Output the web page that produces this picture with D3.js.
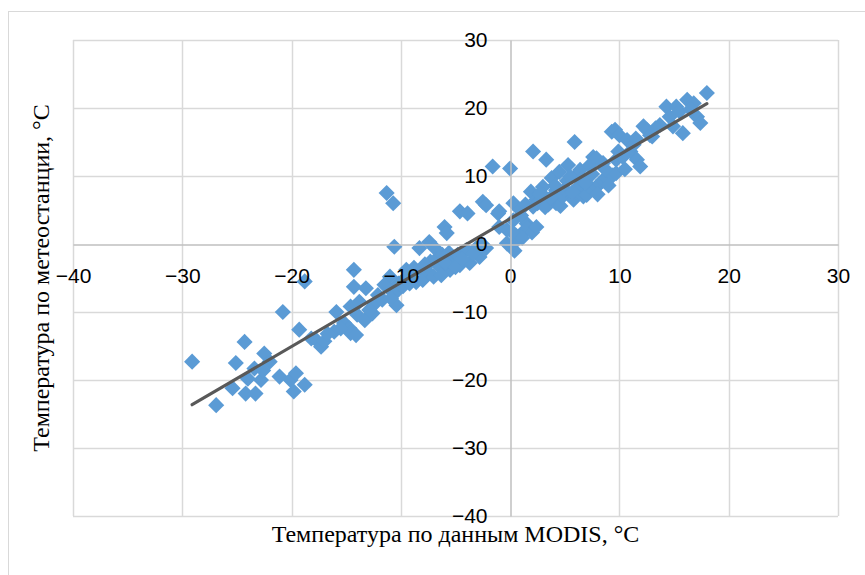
<!DOCTYPE html>
<html>
<head>
<meta charset="utf-8">
<script src="https://cdn.jsdelivr.net/npm/d3@7"></script>
<style>
    body { margin: 0; background: #fff; }
    #chart-area { width: 865px; height: 575px; }
</style>
</head>
<body>
<div id="chart-area"></div>
<script>

// MODIS land surface temperature vs. weather station temperature, °C
let modisTemp = [
    -29.1, -26.9, -25.4, -25.1, -24.3, -24.2, -24.0, -23.4, -23.3, -22.8,
    -22.6, -22.5, -22.0, -21.1, -20.8, -20.1, -19.8, -19.6, -19.3, -18.8,
    -18.8, -18.2, -17.7, -17.3, -16.1, -15.9, -15.2, -14.7, -14.6, -14.6,
    -14.3, -14.3, -14.1, -14.0, -13.3, -13.2, -12.6, -12.4, -12.1, -11.7,
    -11.3, -11.2, -11.0, -10.7, -10.6, -10.4, -10.4, -10.2, -9.7, -9.5,
    -9.0, -8.6, -8.3, -8.1, -8.0, -7.5, -7.4, -7.3, -6.9, -6.8,
    -6.5, -6.2, -6.0, -5.8, -5.6, -5.5, -5.4, -4.8, -4.6, -4.6,
    -4.0, -3.9, -3.7, -3.1, -2.8, -2.5, -2.2, -2.2, -1.6, -1.1,
    -1.0, -1.0, -0.3, -0.3, 0.0, 0.3, 0.3, 0.3, 0.4, 0.5,
    0.6, 0.9, 1.2, 1.5, 1.6, 1.9, 2.0, 2.1, 2.1, 2.4,
    2.5, 3.0, 3.0, 3.3, 3.5, 3.8, 4.2, 4.2, 4.5, 4.6,
    4.8, 5.2, 5.3, 5.8, 5.9, 6.0, 6.1, 6.2, 6.4, 6.7,
    7.0, 7.3, 7.3, 7.6, 7.9, 7.9, 8.2, 8.5, 8.5, 8.8,
    9.3, 9.4, 9.6, 9.7, 9.7, 10.0, 10.3, 10.7, 11.0, 11.3,
    11.6, 11.9, 12.2, 12.5, 13.0, 13.7, 14.3, 14.6, 14.9, 15.2,
    15.8, 16.2, 16.8, 17.1, 17.4, 18.0,
    -9.8, -9.2, -8.8, -7.8, -7.0, -6.3, -5.9, -5.0, -4.4, -3.4,
    -2.6, -12.9, -13.8, -11.5, -10.9, -17.0, -15.5, -16.7,
    1.0, 1.4, 2.7, 3.2, 3.7, 4.1, 5.0, 5.5, 5.7, 6.5,
    6.9, 7.5, 8.0, 8.7, 9.0, 9.9, 10.5, 11.5, 12.8, 13.3,
    15.5, 16.5, 2.4, 1.1, 0.2
];

let stationTemp = [
    -17.3, -23.7, -21.2, -17.5, -14.4, -22.0, -19.8, -18.3, -22.0, -20.0,
    -18.6, -16.1, -17.3, -19.5, -10.0, -20.0, -21.7, -19.0, -12.6, -20.7,
    -5.5, -13.9, -14.2, -15.1, -12.9, -10.0, -11.6, -12.4, -9.2, -13.1,
    -3.8, -6.3, -13.4, -10.4, -11.2, -6.5, -10.2, -8.8, -7.5, -8.2,
    7.5, -6.4, -4.8, 6.0, -0.4, -7.0, -9.0, -5.8, -5.2, -3.8,
    -4.9, -5.6, -0.6, -3.8, -5.3, -4.1, 0.3, -2.6, -0.6, -2.3,
    -3.3, -1.6, 2.5, 1.6, -1.3, -3.8, -2.4, -1.6, 4.8, -3.1,
    -0.9, 4.5, -2.8, -0.6, -1.9, 6.2, 5.7, -0.6, 11.4, 4.5,
    4.8, 2.5, 2.1, 0.1, 11.1, 0.1, 6.0, 3.5, -1.0, 1.3,
    0.6, 5.0, 1.8, 3.0, 2.3, 7.7, 1.7, 13.6, 5.5, 6.5,
    6.0, 8.4, 7.2, 12.4, 5.8, 9.7, 7.9, 6.0, 10.6, 5.6,
    7.0, 9.3, 11.6, 6.5, 15.0, 7.7, 8.2, 10.3, 10.9, 7.0,
    7.2, 11.6, 8.4, 12.8, 12.6, 8.4, 8.9, 11.9, 9.4, 9.7,
    16.5, 10.1, 16.8, 12.4, 10.4, 16.0, 12.8, 15.3, 13.6, 14.6,
    12.4, 11.4, 17.3, 16.8, 15.8, 17.5, 20.2, 18.7, 17.3, 20.2,
    16.3, 21.2, 20.7, 18.7, 17.8, 22.2,
    -6.2, -5.8, -3.5, -3.0, -4.8, -4.6, -2.8, -3.4, -2.2, -1.4,
    -0.2, -9.7, -8.5, -6.0, -8.0, -14.3, -12.4, -13.2,
    4.2, 5.8, 7.4, 5.4, 6.8, 8.6, 8.0, 9.9, 7.6, 9.5,
    9.0, 10.3, 7.3, 11.0, 8.6, 13.6, 11.0, 15.5, 16.0, 17.0,
    19.5, 19.8, 2.5, 0.9, 1.7
];

let xTicks = [-40, -30, -20, -10, 0, 10, 20, 30];
let yTicks = [-40, -30, -20, -10, 0, 10, 20, 30];

let xTitle = 'Температура по данным MODIS, °C';
let yTitle = 'Температура по метеостанции, °C';


class ScatterVis {

    constructor(parentElement, xData, yData) {
        this.parentElement = parentElement;
        this.xData = xData;
        this.yData = yData;
        this.displayData = [];

        this.initVis();
    }

    initVis() {
        let vis = this;

        vis.margin = {top: 40, right: 27, bottom: 59, left: 73};
        vis.width = 865 - vis.margin.left - vis.margin.right;
        vis.height = 575 - vis.margin.top - vis.margin.bottom;

        vis.root = d3.select('#' + vis.parentElement).append('svg')
            .attr('width', 865)
            .attr('height', 575);

        // chart area border (runs off the right and bottom edge)
        vis.root.append('rect')
            .attr('x', 8.5)
            .attr('y', 11.5)
            .attr('width', 900)
            .attr('height', 600)
            .attr('fill', 'none')
            .attr('stroke', '#d9d9d9');

        vis.svg = vis.root.append('g')
            .attr('transform', `translate(${vis.margin.left}, ${vis.margin.top})`);

        vis.x = d3.scaleLinear().domain([-40, 30]).range([0, vis.width]);
        vis.y = d3.scaleLinear().domain([-40, 30]).range([vis.height, 0]);

        vis.wrangleData();
    }

    wrangleData() {
        let vis = this;

        vis.displayData = vis.xData.map((d, i) => ({x: d, y: vis.yData[i]}));

        // least squares trend line, like Excel's linear trendline
        let mx = d3.mean(vis.displayData, d => d.x);
        let my = d3.mean(vis.displayData, d => d.y);
        let sxy = d3.sum(vis.displayData, d => (d.x - mx) * (d.y - my));
        let sxx = d3.sum(vis.displayData, d => (d.x - mx) * (d.x - mx));
        vis.slope = sxy / sxx;
        vis.intercept = my - vis.slope * mx;
        vis.trendData = d3.extent(vis.displayData, d => d.x)
            .map(x => ({x: x, y: vis.slope * x + vis.intercept}));

        vis.updateVis();
    }

    updateVis() {
        let vis = this;

        // grid
        vis.svg.append('g').selectAll('line.v-grid')
            .data(xTicks.filter(d => d !== 0))
            .enter().append('line')
            .attr('class', 'v-grid')
            .attr('x1', d => Math.round(vis.x(d)) + 0.5)
            .attr('x2', d => Math.round(vis.x(d)) + 0.5)
            .attr('y1', 0)
            .attr('y2', vis.height)
            .attr('stroke', '#d9d9d9')
            .attr('stroke-width', 1.5);

        vis.svg.append('g').selectAll('line.h-grid')
            .data(yTicks.filter(d => d !== 0))
            .enter().append('line')
            .attr('class', 'h-grid')
            .attr('x1', 0)
            .attr('x2', vis.width)
            .attr('y1', d => Math.round(vis.y(d)) + 0.5)
            .attr('y2', d => Math.round(vis.y(d)) + 0.5)
            .attr('stroke', '#d9d9d9')
            .attr('stroke-width', 1.5);

        // axis lines through zero
        vis.xAxis = d3.axisBottom(vis.x).tickValues(xTicks).tickSize(0).tickPadding(24);
        vis.yAxis = d3.axisLeft(vis.y).tickValues(yTicks).tickSize(0).tickPadding(23);

        let xAxisG = vis.svg.append('g')
            .attr('class', 'x-axis')
            .attr('transform', `translate(0, ${Math.round(vis.y(0)) + 0.5})`)
            .call(vis.xAxis);

        let yAxisG = vis.svg.append('g')
            .attr('class', 'y-axis')
            .attr('transform', `translate(${Math.round(vis.x(0)) + 0.5}, 0)`)
            .call(vis.yAxis);

        vis.svg.selectAll('.x-axis .domain, .y-axis .domain')
            .attr('stroke', '#bfbfbf')
            .attr('stroke-width', 1.5);

        // points
        let diamond = d3.symbol().type(d3.symbolSquare).size(130);

        vis.svg.append('g').selectAll('path.dot')
            .data(vis.displayData)
            .enter().append('path')
            .attr('class', 'dot')
            .attr('d', diamond)
            .attr('transform', d => `translate(${vis.x(d.x)}, ${vis.y(d.y)}) rotate(45)`)
            .attr('fill', '#5b9bd5');

        // trend line
        vis.svg.append('path')
            .datum(vis.trendData)
            .attr('d', d3.line().x(d => vis.x(d.x)).y(d => vis.y(d.y)))
            .attr('fill', 'none')
            .attr('stroke', '#595959')
            .attr('stroke-width', 3.2)
            .attr('stroke-linecap', 'round');

        // tick labels go on top of the markers
        xAxisG.raise();
        yAxisG.raise();
        vis.svg.selectAll('.x-axis .tick text, .y-axis .tick text')
            .attr('fill', '#000')
            .style('font-family', '"Liberation Sans", Arial, sans-serif')
            .style('font-size', '21px');

        // axis titles
        vis.svg.append('text')
            .attr('x', vis.width / 2)
            .attr('y', 502)
            .attr('text-anchor', 'middle')
            .style('font-family', '"Liberation Serif", "Times New Roman", serif')
            .style('font-size', '24px')
            .attr('fill', '#000')
            .text(xTitle);

        vis.svg.append('text')
            .attr('transform', `translate(${49 - vis.margin.left}, ${vis.height / 2}) rotate(-90)`)
            .attr('text-anchor', 'middle')
            .style('font-family', '"Liberation Serif", "Times New Roman", serif')
            .style('font-size', '24px')
            .attr('fill', '#000')
            .text(yTitle);
    }
}

new ScatterVis('chart-area', modisTemp, stationTemp);

</script>
</body>
</html>
